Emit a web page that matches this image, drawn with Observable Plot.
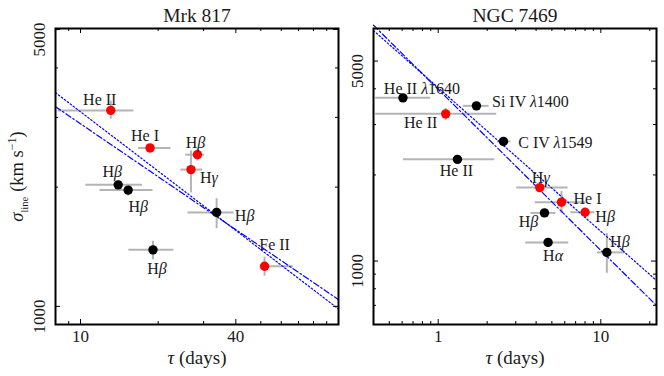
<!DOCTYPE html>
<html><head><meta charset="utf-8">
<script src="https://cdn.jsdelivr.net/npm/d3@7"></script>
<script src="https://cdn.jsdelivr.net/npm/@observablehq/plot@0.6"></script>
<style>
body{margin:0;background:#fff;}
#wrap{position:relative;width:664px;height:376px;overflow:hidden;}
#wrap svg{position:absolute;top:0;}
</style></head><body><div id="wrap"></div>
<script>
// ---------- Mrk 817 ----------
const mrkLine     = ["He II","He I","Hβ","Hγ","Hβ","Hβ","Hβ","Hβ","Fe II"];
const mrkTau      = [13.1, 18.6, 28.4, 26.8, 14.0, 15.3, 33.7, 19.1, 51.7];
const mrkTauLo    = [8.2, 16.8, 25.6, 24.5, 10.5, 11.9, 26.1, 15.4, 50.0];
const mrkTauHi    = [16.1, 22.4, 30.3, 29.8, 17.4, 19.1, 39.4, 23.0, 66.8];
const mrkSigma    = [3125, 2512, 2416, 2215, 2027, 1966, 1727, 1389, 1263];
const mrkSigmaLo  = [2969, 2460, 2329, 1935, 1980, 1900, 1571, 1311, 1192];
const mrkSigmaHi  = [3297, 2565, 2497, 2469, 2075, 2030, 1870, 1460, 1331];
const mrkGroup    = ["new","new","new","new","old","old","old","old","new"];
const mrkFitTau   = [8, 100];
const mrkFitSigma = [3192, 1040];
const mrkVirSigma = [3464, 985];
const mrkXMajor = [10, 40];
const mrkXMinor = [9, 20, 30, 50, 60, 70, 80, 90];
const mrkYMajor = [1000, 5000];
const mrkYMinor = [2000, 3000, 4000];

// ---------- NGC 7469 ----------
const ngcLine     = ["He II λ1640","Si IV λ1400","He II","C IV λ1549","He II","Hγ","He I","Hβ","Hβ","Hα","Hβ"];
const ngcTau      = [0.607, 1.718, 1.112, 2.519, 1.313, 4.213, 5.731, 8.005, 4.503, 4.739, 10.89];
const ngcTauLo    = [0.4125, 1.429, 0.4125, 2.314, 0.6106, 3.042, 3.95, 6.54, 3.72, 3.45, 9.54];
const ngcTauHi    = [0.899, 2.054, 2.291, 2.794, 2.227, 6.292, 8.1, 9.2, 5.3, 6.35, 14.0];
const ngcSigma    = [3719, 3487, 3270, 2619, 2267, 1806, 1606, 1481, 1473, 1162, 1072];
const ngcSigmaLo  = [3719, 3487, 3099, 2619, 2267, 1806, 1470, 1481, 1473, 1162, 906];
const ngcSigmaHi  = [3719, 3487, 3413, 2619, 2267, 1806, 1750, 1481, 1473, 1162, 1249];
const ngcGroup    = ["old","old","new","old","old","new","new","new","old","old","old"];
const ngcFitTau   = [0.4, 22];
const ngcFitSigma = [6674, 699];
const ngcVirSigma = [6390, 855];
const ngcXMajor = [1, 10];
const ngcXMinor = [0.5, 0.6, 0.7, 0.8, 0.9, 2, 3, 4, 5, 6, 7, 8, 9, 20];
const ngcYMajor = [1000, 5000];
const ngcYMinor = [700, 800, 900, 2000, 3000, 4000];

// ---------- layout (label offsets in px) ----------
const mrkLabelDx = [-11, -5, -2, 18, -6, 10, 28, 4, 10];
const mrkLabelDy = [-11, -12, -12, 8, -13, 17, 3, 19, -21];
const ngcLabelDx = [19, 54, -25, 52, -1, 1, 26, 20, -16, 5, 13];
const ngcLabelDy = [-9, -4, 9, 1.5, 12, -10, -3, 5, 9, 13, -11];

const YLABEL = "σline (km s−1)";
const FONT = "Liberation Serif, Times New Roman, serif";

function panel(c) {
  const H = 376, mt = 28, mb = 52;
  const FH = H - mt - mb, FW = c.width - c.ml - c.mr;
  const pts = c.tau.map((t, i) => ({t, tlo: c.tauLo[i], thi: c.tauHi[i], s: c.sigma[i],
    slo: c.sigmaLo[i], shi: c.sigmaHi[i], g: c.group[i], name: c.line[i]}));
  const fit = c.fitTau.map((t, i) => ({t, fit: c.fitSigma[i], vir: c.virSigma[i]}));
  const grey = "#b4b4b4";
  const ink = "#1a1a1a";
  const marks = [
    Plot.ruleY(pts, {y: "s", x1: "tlo", x2: "thi", stroke: grey, strokeWidth: 2}),
    Plot.ruleX(pts.filter(d => d.shi > d.slo), {x: "t", y1: "slo", y2: "shi", stroke: grey, strokeWidth: 2}),
    Plot.line(fit, {x: "t", y: "fit", stroke: "#0000ff", strokeWidth: 1.2, strokeDasharray: "6,2.5,1.5,2.5"}),
    Plot.line(fit, {x: "t", y: "vir", stroke: "#0000ff", strokeWidth: 1.2, strokeDasharray: "1.5,2.2"}),
    Plot.dot(pts, {x: "t", y: "s", r: 4.7, fill: d => d.g === "new" ? "#ff0000" : "#000000", stroke: "none"}),
    ...pts.map((p, i) => Plot.text([p], {x: "t", y: "s", text: "name", dx: c.ldx[i], dy: c.ldy[i],
      fontSize: 16, fill: ink, textAnchor: "middle", lineAnchor: "middle"})),
    // ticks (inward, all four sides)
    Plot.ruleX(c.xMajor, {x: d => d, insetTop: FH - 5, stroke: "black"}),
    Plot.ruleX(c.xMajor, {x: d => d, insetBottom: FH - 5, stroke: "black"}),
    Plot.ruleX(c.xMinor, {x: d => d, insetTop: FH - 3, stroke: "black"}),
    Plot.ruleX(c.xMinor, {x: d => d, insetBottom: FH - 3, stroke: "black"}),
    Plot.ruleY(c.yMajor, {y: d => d, insetRight: FW - 5, stroke: "black"}),
    Plot.ruleY(c.yMajor, {y: d => d, insetLeft: FW - 5, stroke: "black"}),
    Plot.ruleY(c.yMinor, {y: d => d, insetRight: FW - 3, stroke: "black"}),
    Plot.ruleY(c.yMinor, {y: d => d, insetLeft: FW - 3, stroke: "black"}),
    // tick labels
    Plot.text(c.xMajor, {x: d => d, text: d => String(d), frameAnchor: "bottom", dy: 12,
      fontSize: 17, lineAnchor: "middle", fill: ink}),
    Plot.text(c.yMajor, {y: d => d, text: d => String(d), frameAnchor: "left", dx: -16, dy: 10,
      rotate: -90, fontSize: 17, lineAnchor: "middle", textAnchor: "middle", fill: ink}),
    // title and x label
    Plot.text([c.name], {text: d => d, frameAnchor: "top", dy: -13, fontSize: 19.5, lineAnchor: "middle", fill: ink}),
    Plot.text(["τ (days)"], {text: d => d, frameAnchor: "bottom", dy: 33, fontSize: 19, lineAnchor: "middle", fill: ink}),
    Plot.frame({stroke: "black", strokeWidth: 2})
  ];
  if (c.yLabel) marks.push(Plot.text([YLABEL], {text: d => d, frameAnchor: "left", dx: -38,
    rotate: -90, fontSize: 18.5, lineAnchor: "middle", textAnchor: "middle", fill: ink}));
  const svg = Plot.plot({
    width: c.width, height: H, marginLeft: c.ml, marginRight: c.mr, marginTop: mt, marginBottom: mb,
    x: {type: "log", domain: c.xDomain, axis: null},
    y: {type: "log", domain: c.yDomain, axis: null},
    style: {fontFamily: FONT, fontSize: "16px", background: "white", overflow: "visible"},
    marks
  });
  // typography: italic Greek, sub/superscripts
  d3.select(svg).selectAll("text").each(function() {
    const el = this;
    if (el.childNodes.length !== 1 || el.firstChild.nodeType !== 3) return;
    const s = el.textContent;
    if (s === YLABEL) {
      el.innerHTML = '<tspan font-style="italic">σ</tspan><tspan font-size="10.5" dy="5">line</tspan>' +
        '<tspan dy="-5" dx="5">(km s</tspan><tspan font-size="12" dy="-7">−1</tspan><tspan dy="7">)</tspan>';
      return;
    }
    if (/[αβγλτσ]/.test(s)) {
      el.innerHTML = s.replace(/([αβγλτσ])/g, '<tspan font-style="italic">$1</tspan>');
    }
  });
  svg.style.left = c.left + "px";
  return svg;
}

const wrap = document.getElementById("wrap");
wrap.appendChild(panel({
  name: "Mrk 817", tau: mrkTau, tauLo: mrkTauLo, tauHi: mrkTauHi, sigma: mrkSigma,
  sigmaLo: mrkSigmaLo, sigmaHi: mrkSigmaHi, group: mrkGroup, line: mrkLine,
  ldx: mrkLabelDx, ldy: mrkLabelDy, fitTau: mrkFitTau, fitSigma: mrkFitSigma, virSigma: mrkVirSigma,
  xDomain: [8, 100], yDomain: [900, 5030], xMajor: mrkXMajor, xMinor: mrkXMinor,
  yMajor: mrkYMajor, yMinor: mrkYMinor, width: 340, ml: 55, mr: 2, left: 0, yLabel: true
}));
wrap.appendChild(panel({
  name: "NGC 7469", tau: ngcTau, tauLo: ngcTauLo, tauHi: ngcTauHi, sigma: ngcSigma,
  sigmaLo: ngcSigmaLo, sigmaHi: ngcSigmaHi, group: ngcGroup, line: ngcLine,
  ldx: ngcLabelDx, ldy: ngcLabelDy, fitTau: ngcFitTau, fitSigma: ngcFitSigma, virSigma: ngcVirSigma,
  xDomain: [0.4, 22], yDomain: [600, 6500], xMajor: ngcXMajor, xMinor: ngcXMinor,
  yMajor: ngcYMajor, yMinor: ngcYMinor, width: 324, ml: 33, mr: 8, left: 340, yLabel: false
}));
</script></body></html>
